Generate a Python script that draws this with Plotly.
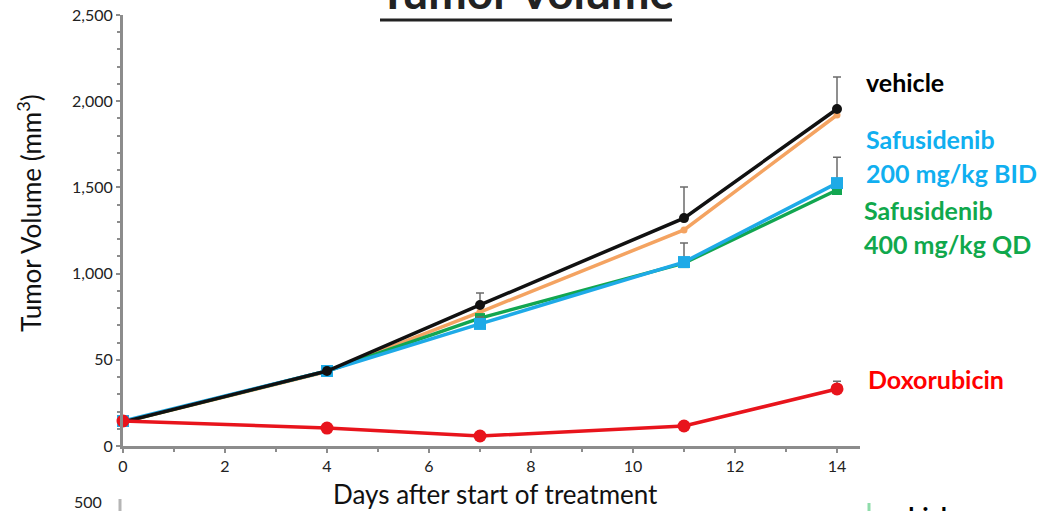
import plotly.graph_objects as go

# Days of measurement
days = [0, 4, 7, 11, 14]

# Mean tumour volume (mm^3) per group
vehicle = [139, 435, 818, 1322, 1955]
vehicle_err = [10, 15, 70, 180, 185]
orange_group = [139, 432, 777, 1253, 1920]
safu_200_bid = [145, 435, 708, 1067, 1525]
safu_200_err = [10, 15, 40, 110, 150]
safu_400_qd = [140, 435, 742, 1061, 1485]
doxorubicin = [145, 104, 58, 116, 331]
doxo_err = [5, 5, 5, 10, 45]

y_tick_vals = [0, 500, 1000, 1500, 2000, 2500]
y_tick_text = ["0", "50", "1,000", "1,500", "2,000", "2,500"]
x_tick_vals = [0, 2, 4, 6, 8, 10, 12, 14]

FONT = "Lato"
BLACK = "#111111"
ORANGE = "#f4a361"
BLUE = "#1eaae7"
GREEN = "#12a650"
RED = "#e8141c"
BLUE_TXT = "#10aff0"
GREEN_TXT = "#10a84c"
RED_TXT = "#ff0000"

# plot area in pixels
W, H = 1061, 511
L, R, T, B = 123, 860, 15, 446


def px(x):
    return (x - L) / (R - L)


def py(y):
    return (B - y) / (B - T)


fig = go.Figure()


def add_series(y, color, symbol, size, err=None, name=""):
    kw = {}
    if err is not None:
        kw["error_y"] = dict(type="data", array=err, arrayminus=[0] * len(err),
                             symmetric=False, color="#6b6b6b", thickness=1.5, width=4)
    fig.add_trace(go.Scatter(
        x=days, y=y, mode="lines+markers", name=name,
        line=dict(color=color, width=3.5),
        marker=dict(color=color, symbol=symbol, size=size),
        cliponaxis=False, showlegend=False, **kw))


add_series(orange_group, ORANGE, "circle", 7, name="group E")
add_series(safu_400_qd, GREEN, "square", 10, name="Safusidenib 400 mg/kg QD")
add_series(safu_200_bid, BLUE, "square", 12, err=safu_200_err, name="Safusidenib 200 mg/kg BID")
add_series(vehicle, BLACK, "circle", 10, err=vehicle_err, name="vehicle")
add_series(doxorubicin, RED, "circle", 13, err=doxo_err, name="Doxorubicin")

axis_common = dict(
    showline=True, linecolor="#8c8c8c", linewidth=3,
    ticks="outside", ticklen=4, tickwidth=2, tickcolor="#8c8c8c",
    showgrid=False, zeroline=False, automargin=False,
    tickfont=dict(family=FONT, size=16, color="#222222"),
)

fig.update_xaxes(range=[0, (R - L) / 51.0], tickvals=x_tick_vals,
                 minor=dict(dtick=1, ticks="outside", ticklen=3, tickcolor="#8c8c8c", tickwidth=2),
                 **axis_common)
fig.update_yaxes(range=[0, 2500], tickvals=y_tick_vals, ticktext=y_tick_text,
                 minor=dict(dtick=100, ticks="outside", ticklen=3, tickcolor="#8c8c8c", tickwidth=2),
                 **axis_common)

ann = []


def text(x, y, s, size, color="#111111", bold=False, xanchor="left", yanchor="middle", angle=0):
    ann.append(dict(x=px(x), y=py(y), xref="paper", yref="paper", text=s, showarrow=False,
                    xanchor=xanchor, yanchor=yanchor, textangle=angle,
                    font=dict(family=FONT, size=size, color=color,
                              weight="bold" if bold else "normal")))


# title (underlined)
text(526, 21, "Tumor Volume", 46, color="#222222", bold=True, xanchor="center", yanchor="bottom")

# axis titles
text(30, 213, "Tumor Volume (mm<sup>3</sup>)", 26, color="#111111", xanchor="center", angle=-90)
text(495, 494, "Days after start of treatment", 26, color="#111111", xanchor="center")

# group labels
text(864, 82, "vehicle", 25, color="#000000", bold=True)
text(864, 139, "Safusidenib", 25, color=BLUE_TXT, bold=True)
text(864, 173, "200 mg/kg BID", 25, color=BLUE_TXT, bold=True)
text(862, 210, "Safusidenib", 25, color=GREEN_TXT, bold=True)
text(862, 244, "400 mg/kg QD", 25, color=GREEN_TXT, bold=True)
text(866, 379, "Doxorubicin", 25, color=RED_TXT, bold=True)

# next panel peeking in at the bottom
text(104, 502, "500", 16, color="#222222", xanchor="right")
text(880, 516, "vehicle", 25, color="#000000", bold=True, yanchor="middle")

fig.update_layout(
    width=W, height=H,
    margin=dict(l=L, r=W - R, t=T, b=H - B),
    paper_bgcolor="white", plot_bgcolor="white",
    annotations=ann,
    shapes=[
        dict(type="line", xref="paper", yref="paper", x0=px(380), x1=px(672), y0=py(20), y1=py(20),
             line=dict(color="#222222", width=3)),
        dict(type="line", xref="paper", yref="paper", x0=px(120), x1=px(120), y0=py(499), y1=py(511),
             line=dict(color="#b5b5b5", width=3)),
        dict(type="line", xref="paper", yref="paper", x0=px(869), x1=px(869), y0=py(503), y1=py(511),
             line=dict(color="#8fdcaa", width=3)),
    ],
)

fig.write_html("out.html")
